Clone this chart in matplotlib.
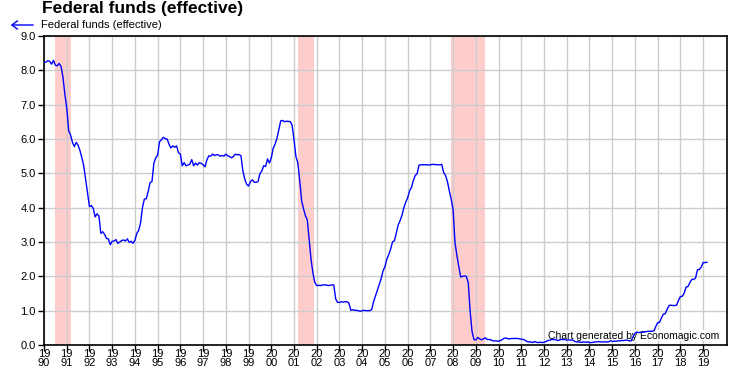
# federal funds (effective), monthly, 1990 - early 2019

import matplotlib
matplotlib.use('Agg')
import matplotlib.pyplot as plt
import numpy as np

plt.rcParams['font.family'] = ['Liberation Sans', 'DejaVu Sans']

# monthly effective rate, percent
rate_1990s = [
    8.23, 8.24, 8.28, 8.26, 8.18, 8.29, 8.15, 8.13, 8.20, 8.11, 7.81, 7.31,
    6.91, 6.25, 6.12, 5.91, 5.78, 5.90, 5.82, 5.66, 5.45, 5.21, 4.81, 4.43,
    4.03, 4.06, 3.98, 3.73, 3.82, 3.76, 3.25, 3.30, 3.22, 3.10, 3.09, 2.92,
    3.02, 3.03, 3.07, 2.96, 3.00, 3.04, 3.06, 3.03, 3.09, 2.99, 3.02, 2.96,
    3.05, 3.25, 3.34, 3.56, 4.01, 4.25, 4.26, 4.47, 4.73, 4.76, 5.29, 5.45,
    5.53, 5.92, 5.98, 6.05, 6.01, 6.00, 5.85, 5.74, 5.80, 5.76, 5.80, 5.60,
    5.56, 5.22, 5.31, 5.22, 5.24, 5.27, 5.40, 5.22, 5.30, 5.24, 5.31, 5.29,
    5.25, 5.19, 5.39, 5.51, 5.50, 5.56, 5.52, 5.54, 5.54, 5.50, 5.52, 5.50,
    5.56, 5.51, 5.49, 5.45, 5.49, 5.56, 5.54, 5.55, 5.51, 5.07, 4.83, 4.68,
    4.63, 4.76, 4.81, 4.74, 4.74, 4.76, 4.99, 5.07, 5.22, 5.20, 5.42, 5.30,
]
rate_2000s = [
    5.45, 5.73, 5.85, 6.02, 6.27, 6.53, 6.54, 6.50, 6.52, 6.51, 6.51, 6.40,
    5.98, 5.49, 5.31, 4.80, 4.21, 3.97, 3.77, 3.65, 3.07, 2.49, 2.09, 1.82,
    1.73, 1.74, 1.73, 1.75, 1.75, 1.75, 1.73, 1.74, 1.75, 1.75, 1.34, 1.24,
    1.24, 1.26, 1.25, 1.26, 1.26, 1.22, 1.01, 1.03, 1.01, 1.01, 1.00, 0.98,
    1.00, 1.01, 1.00, 1.00, 1.00, 1.03, 1.26, 1.43, 1.61, 1.76, 1.93, 2.16,
    2.28, 2.50, 2.63, 2.79, 3.00, 3.04, 3.26, 3.50, 3.62, 3.78, 4.00, 4.16,
    4.29, 4.49, 4.59, 4.79, 4.94, 4.99, 5.24, 5.25, 5.25, 5.25, 5.25, 5.24,
    5.25, 5.26, 5.26, 5.25, 5.25, 5.25, 5.26, 5.02, 4.94, 4.76, 4.49, 4.24,
    3.94, 2.98, 2.61, 2.28, 1.98, 2.00, 2.01, 2.00, 1.81, 0.97, 0.39, 0.16,
    0.15, 0.22, 0.18, 0.15, 0.18, 0.21, 0.16, 0.16, 0.15, 0.12, 0.12, 0.12,
]
rate_2010s = [
    0.11, 0.13, 0.16, 0.20, 0.20, 0.18, 0.18, 0.19, 0.19, 0.19, 0.19, 0.18,
    0.17, 0.16, 0.14, 0.10, 0.09, 0.09, 0.07, 0.10, 0.08, 0.07, 0.08, 0.07,
    0.08, 0.10, 0.13, 0.14, 0.16, 0.16, 0.16, 0.13, 0.14, 0.16, 0.16, 0.16,
    0.14, 0.15, 0.14, 0.15, 0.11, 0.09, 0.09, 0.08, 0.08, 0.09, 0.08, 0.09,
    0.07, 0.07, 0.08, 0.09, 0.09, 0.10, 0.09, 0.09, 0.09, 0.09, 0.09, 0.12,
    0.11, 0.11, 0.11, 0.12, 0.12, 0.13, 0.13, 0.14, 0.14, 0.12, 0.12, 0.24,
    0.34, 0.38, 0.36, 0.37, 0.37, 0.38, 0.39, 0.40, 0.40, 0.40, 0.41, 0.54,
    0.65, 0.66, 0.79, 0.90, 0.91, 1.04, 1.15, 1.16, 1.15, 1.15, 1.16, 1.30,
    1.41, 1.42, 1.51, 1.69, 1.70, 1.82, 1.91, 1.91, 1.95, 2.19, 2.20, 2.27,
    2.40, 2.40, 2.41,
]

# recessions (start, end) in decimal years
recessions = [(1990.5, 1991.17), (2001.17, 2001.87), (2007.92, 2009.42)]

years = list(range(1990, 2020))
year_labels = [str(y)[:2] + '\n' + str(y)[2:] for y in years]
y_ticks = [0, 1, 2, 3, 4, 5, 6, 7, 8, 9]

rate = np.array(rate_1990s + rate_2000s + rate_2010s)
dates = 1990 + np.arange(len(rate)) / 12.0

fig = plt.figure(figsize=(7.36, 3.72), dpi=100, facecolor='w')
ax = fig.add_axes([44/736, 1 - 345/372, (727-44)/736, (345-36)/372])

for start, end in recessions:
    ax.axvspan(start, end, color='#ffcccc', lw=0, zorder=0)

ax.plot(dates, rate, color='#0000ff', lw=1.0, zorder=3)

ax.set_xlim(1990, 2020.05)
ax.set_ylim(0, 9)
ax.set_xticks(years)
ax.set_xticklabels(year_labels, fontsize=8, linespacing=0.9)
ax.set_yticks(y_ticks)
ax.set_yticklabels(['%.1f' % v for v in y_ticks], fontsize=8)
ax.tick_params(direction='out', length=4, width=1, colors='black')
ax.tick_params(axis='x', pad=-1)
ax.tick_params(axis='y', pad=2)
ax.grid(True, color='#cccccc', lw=1, zorder=1)
ax.set_axisbelow(True)
for s in ax.spines.values():
    s.set_linewidth(1.2)

fig.text(42/736, 1 - 1/372, 'Federal funds (effective)', fontsize=12.5,
         fontweight='bold', va='top', ha='left')
# legend: arrow + label
fig.add_artist(matplotlib.patches.FancyArrowPatch(
    (36/736, 1 - 25/372), (8/736, 1 - 25/372), transform=fig.transFigure,
    arrowstyle='->,head_length=4,head_width=3', color='#0000ff', lw=1))
fig.text(41/736, 1 - 25/372, 'Federal funds (effective)', fontsize=8,
         va='center', ha='left')

# watermark sits above the grid but under the line
ax.text(0.988, 0.03, 'Chart generated by Economagic.com', transform=ax.transAxes,
        fontsize=7.5, ha='right', va='center', zorder=2,
        bbox=dict(facecolor='white', edgecolor='none', pad=0.5))

fig.savefig('out.png', dpi=100)
